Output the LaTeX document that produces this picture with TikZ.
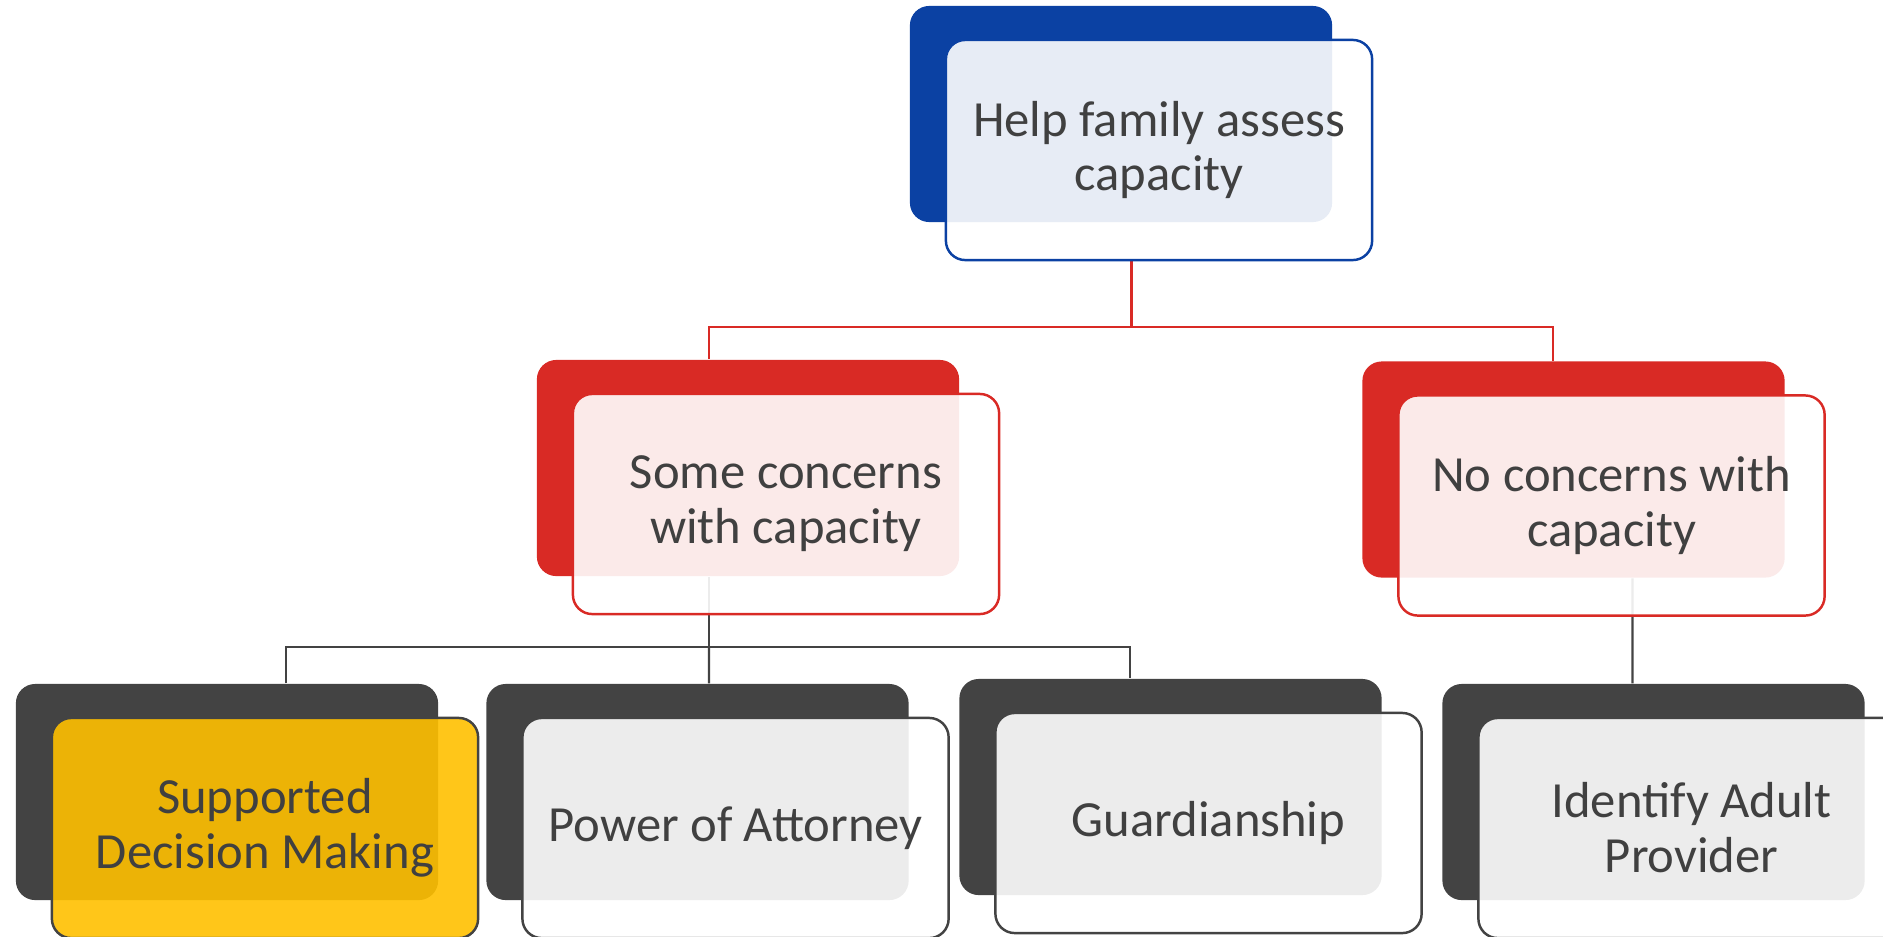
\documentclass[tikz,border=0pt]{standalone}
\usepackage{fontspec}
\setmainfont{Carlito}
\usetikzlibrary{calc,backgrounds}
\definecolor{navy}{HTML}{0B41A3}
\definecolor{crimson}{HTML}{D92A25}
\definecolor{charcoal}{HTML}{434343}
\definecolor{txtgray}{HTML}{404040}
\definecolor{gold}{HTML}{FFC000}
\begin{document}
\begin{tikzpicture}[
			x=0.01cm,y=-0.01cm,
			bk/.style={rounded corners=5.5pt,minimum width=4.22cm,minimum height=2.16cm,inner sep=0pt},
			fr/.style={draw,line width=0.7pt,rounded corners=5.5pt,fill=white,fill opacity=0.9,text opacity=1,minimum width=4.26cm,minimum height=2.2cm,inner sep=0pt,align=center,text=txtgray,font=\fontsize{14.4}{15.6}\selectfont},
			redln/.style={draw=crimson,line width=0.65pt},
			grayln/.style={draw=charcoal,line width=0.65pt}
			]
			\useasboundingbox (0,0) rectangle (1883,936);
			% top level
			\node[bk,fill=navy] (helpbk) at (1121,114) {};
			\node[fr,draw=navy] (help) at ($(helpbk)+(38,36)$) {Help family assess\\capacity};
			% second level
			\node[bk,fill=crimson] (somebk) at (748,468) {};
			\node[fr,draw=crimson] (some) at ($(somebk)+(38,36)$) {Some concerns\\with capacity};
			\node[bk,fill=crimson] (nocbk) at (1573.5,469.5) {};
			\node[fr,draw=crimson] (noc) at ($(nocbk)+(38,36)$) {No concerns with\\capacity};
			% options
			\node[bk,fill=charcoal] (sdmbk) at (227,792) {};
			\node[fr,draw=charcoal,fill=gold] (sdm) at ($(sdmbk)+(38,36)$) {Supported\\Decision Making};
			\node[bk,fill=charcoal] (poabk) at (697.5,792) {};
			\node[fr,draw=charcoal] (poa) at ($(poabk)+(38,36)$) {Power of Attorney};
			\node[bk,fill=charcoal] (guardbk) at (1170.5,787) {};
			\node[fr,draw=charcoal] (guard) at ($(guardbk)+(38,36)$) {Guardianship};
			\node[bk,fill=charcoal] (iapbk) at (1653.5,792) {};
			\node[fr,draw=charcoal] (iap) at ($(iapbk)+(38,36)$) {Identify Adult\\Provider};
			\begin{scope}[on background layer]
				\draw[redln] ([xshift=-2.75mm]help.south) -- ++(0,66) coordinate (hj);
				\draw[redln] ([xshift=-3.9mm]somebk.north) |- (hj) -| ([xshift=-2.05mm]nocbk.north);
				\draw[grayln] ([xshift=-3.9mm]somebk.south) -- ++(0,70) coordinate (sj);
				\draw[grayln] ([xshift=5.9mm]sdmbk.north) |- (sj) -| ([xshift=-4.05mm]guardbk.north);
				\draw[grayln] (sj) -- ([xshift=1.15mm]poabk.north);
				\draw[grayln] ([xshift=5.9mm]nocbk.south) -- ([xshift=-2.1mm]iapbk.north);
			\end{scope}
		\end{tikzpicture}
\end{document}
